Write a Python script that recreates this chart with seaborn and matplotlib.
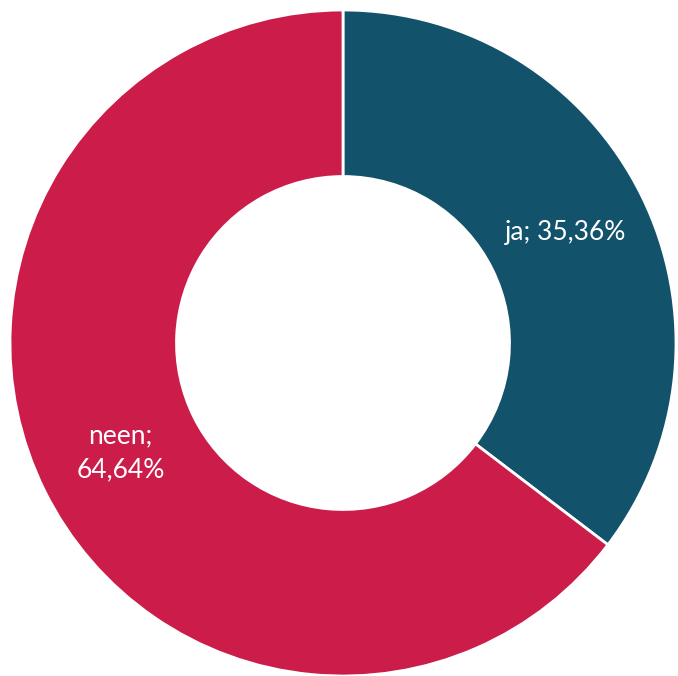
import numpy as np
import seaborn as sns
import matplotlib.pyplot as plt

labels = ['ja', 'neen']
values = [35.36, 64.64]
label_text = ['ja; 35,36%', 'neen;\n64,64%']
colors = ['#12526B', '#CB1C4A']

sns.set_theme(style='white')
plt.rcParams['font.family'] = ['Lato', 'DejaVu Sans']

fig = plt.figure(figsize=(6.78, 6.76), dpi=100)
ax = fig.add_axes([10 / 678, 0, 666 / 678, 666 / 676])

wedges, _ = ax.pie(values, colors=colors, startangle=90, counterclock=False,
                   radius=1, wedgeprops=dict(width=0.5, edgecolor='white', linewidth=2))

# labels at the middle of each slice
start = 90
for v, txt in zip(values, label_text):
    mid = np.deg2rad(start - v * 3.6 / 2)
    start -= v * 3.6
    ax.text(0.745 * np.cos(mid), 0.745 * np.sin(mid), txt, ha='center', va='center',
            color='white', fontsize=19, linespacing=1.45)

ax.set_xlim(-1, 1)
ax.set_ylim(-1, 1)
ax.set_aspect('equal')
ax.axis('off')

plt.savefig('out.png', dpi=100)
